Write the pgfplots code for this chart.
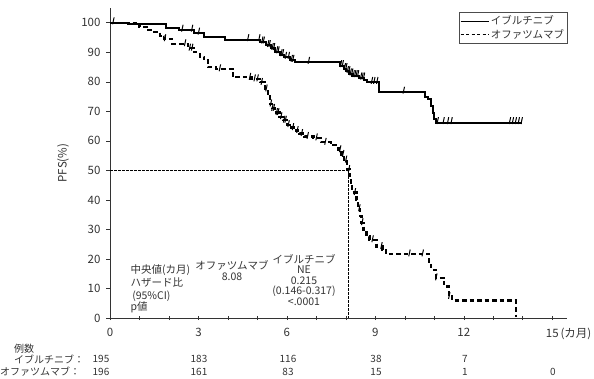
\documentclass[border=0pt]{standalone}
\usepackage{fontspec}
\setmainfont{Noto Sans CJK JP}
\usepackage{pgfplots}
\pgfplotsset{compat=1.18}
\definecolor{txt}{gray}{0.2}
\begin{document}
\begin{tikzpicture}[font=\fontsize{10.5}{12}\selectfont, text=txt]
\useasboundingbox (-110pt,-60pt) rectangle (484pt,318pt);
\begin{axis}[
  at={(0,0)}, anchor=south west,
  scale only axis, width=457pt, height=310pt,
  xmin=0, xmax=15.5, ymin=0, ymax=105,
  axis x line*=bottom, axis y line*=left,
  axis line style={-, black!80, line width=0.8pt},
  xtick={0,3,6,9,12,15},
  xticklabels={0,3,6,9,12,{15\rlap{\,(カ月)}}},
  minor xtick={1,2,4,5,7,8,10,11,13,14},
  ytick={0,10,...,100},
  xtick align=center, ytick align=outside,
  major tick length=4pt, minor tick length=4pt,
  tick style={black!80, line width=0.6pt},
  /pgf/number format/assume math mode=true,
  tick label style={font=\fontsize{11.5}{13}\selectfont, text=txt},
  xticklabel style={yshift=-5pt},
  yticklabel style={xshift=-2pt},
  ylabel={PFS(\%)},
  every axis y label/.style={at={(rel axis cs:0,0.5)}, xshift=-47pt, rotate=90, anchor=center, font=\fontsize{11.5}{13}\selectfont, text=txt},
  clip=false,
  legend style={at={(1.002,0.987)}, anchor=north east, draw=black!70, line width=0.5pt,
    font=\fontsize{10.5}{12}\selectfont, text=txt, inner sep=1.5pt, row sep=-1pt, cells={anchor=west}},
  legend cell align=left,
]
% median reference lines
\addplot[forget plot, black, line width=0.5pt, dash pattern=on 2.5pt off 1.5pt] coordinates {(0,50) (8.08,50) (8.08,0)};
% Ibrutinib
\addplot[const plot, black, line width=2pt,
  legend image code/.code={\draw[black, line width=0.6pt] (0pt,0pt) -- (28pt,0pt);}]
coordinates {
(0,100) (0.6,99.5) (1.9,98.2) (2.35,97.5) (2.85,96.5) (3.2,95.1) (3.9,94.3)
(5.1,93.5) (5.3,92.3) (5.45,91.3) (5.6,90.2) (5.75,89.2) (5.9,88.3) (6.1,87.3)
(6.26,86.6) (7.8,85.5) (7.92,84.5) (8.02,83.5) (8.12,82.7) (8.22,82.1) (8.45,81.3)
(8.63,80.5) (8.7,79.8) (9.14,76.5) (10.69,75.0) (10.77,74.1) (10.89,71.9) (10.94,69.6)
(11.0,67.3) (11.05,66.2) (13.98,66.2)};
\addlegendentry{イブルチニブ}
% Ofatumumab
\addplot[const plot, black, line width=2.2pt, dash pattern=on 4.5pt off 3pt,
  legend image code/.code={\draw[black, line width=0.6pt, dash pattern=on 3pt off 2.5pt] (0pt,0pt) -- (28pt,0pt);}]
coordinates {
(0,100) (1.0,98.6) (1.3,97.5) (1.5,96.8) (1.7,95.6) (1.85,94.6) (2.1,92.9) (2.65,91.4)
(2.85,90.0) (3.05,88.5) (3.2,87.2) (3.33,84.9) (3.6,84.4) (4.17,81.5) (4.8,81.0)
(5.1,79.8) (5.25,77.6) (5.35,75.0) (5.42,72.5) (5.5,71.0) (5.6,69.6) (5.75,68.2)
(5.86,67.0) (6.0,65.5) (6.1,64.5) (6.25,63.5) (6.43,62.5) (6.6,61.5) (6.9,61.0)
(7.15,59.5) (7.5,58.5) (7.75,57.0) (7.85,55.4) (7.95,53.5) (8.05,50.3) (8.12,48.0)
(8.18,45.0) (8.22,42.5) (8.36,40.0) (8.42,37.0) (8.48,34.5) (8.53,32.3) (8.6,29.9)
(8.7,27.6) (8.8,26.5) (9.04,24.2) (9.24,23.1) (9.37,21.7) (10.83,19.0) (10.9,16.3)
(11.05,13.6) (11.34,10.7) (11.5,7.3) (11.6,5.9) (13.76,0.5)};
\addlegendentry{オファツムマブ}
% censor marks ibrutinib
\addplot[forget plot, only marks, mark=|, mark size=3.5pt, mark options={line width=1pt, black, rotate=-12, yshift=2pt}]
coordinates {
(0.1,100) (2.44,97.5) (2.77,97.5) (3.0,96.5) (4.67,94.3) (5.05,94.3) (5.15,93.5) (5.2,93.5)
(5.35,92.3) (5.4,92.3) (5.5,91.3) (5.55,91.3) (5.65,90.2) (5.7,90.2) (5.8,89.2) (5.85,89.2)
(5.95,88.3) (6.05,88.3) (6.15,87.3) (6.2,87.3) (6.73,86.6) (7.82,85.5) (7.88,85.5)
(7.95,84.5) (8.0,84.5) (8.05,83.5) (8.1,83.5) (8.15,82.7) (8.2,82.7) (8.25,82.1)
(8.3,82.1) (8.35,82.1) (8.4,82.1) (8.5,81.3) (8.55,81.3) (8.6,81.3) (8.87,79.8)
(8.95,79.8) (9.05,79.8) (9.95,76.5) (11.1,66.2) (11.3,66.2) (11.45,66.2) (11.57,66.2)
(13.55,66.2) (13.65,66.2) (13.75,66.2) (13.85,66.2) (13.95,66.2)};
% censor marks ofatumumab
\addplot[forget plot, only marks, mark=|, mark size=3.5pt, mark options={line width=1pt, black, rotate=-12, yshift=1pt}]
coordinates {
(1.86,94.6) (2.54,92.9) (2.7,91.4) (2.78,91.4) (3.72,84.4) (4.74,81.5) (4.9,81.0)
(5.0,81.0) (5.14,79.8) (5.3,77.6) (5.45,72.5) (5.5,71.0) (5.55,71.0) (5.65,69.6)
(5.7,69.6) (5.8,68.2) (5.9,67.0) (5.95,67.0) (6.05,65.5) (6.2,64.5) (6.35,63.5)
(6.5,62.5) (6.7,61.5) (7.0,61.0) (7.3,59.5) (7.8,57.0) (7.9,55.4) (8.0,53.5)
(8.1,50.3) (8.3,42.5) (8.45,37.0) (8.55,32.3) (8.9,26.5) (9.2,24.2) (10.15,21.7)
(10.6,21.7) (11.06,13.6) (11.5,7.3)};
\end{axis}
% annotation block
\node[anchor=west] at (17pt,48pt) {中央値(カ月)};
\node[anchor=west] at (17pt,36pt) {ハザード比};
\node[anchor=west] at (17pt,22pt) {\,(95\%CI)};
\node[anchor=west] at (17pt,11pt) {p値};
\node at (122pt,53pt) {オファツムマブ};
\node at (122pt,41pt) {8.08};
\node at (194pt,59pt) {イブルチニブ};
\node at (194pt,48pt) {NE};
\node at (194pt,37.5pt) {0.215};
\node at (194pt,27pt) {(0.146-0.317)};
\node at (194pt,16pt) {<.0001};
% number at risk
\begin{scope}[font=\fontsize{10}{12}\selectfont]
\node[anchor=west, inner sep=0pt] at (-96pt,-31pt) {例数};
\node[anchor=west, inner sep=0pt] at (-96pt,-41pt) {イブルチニブ：};
\node[anchor=west, inner sep=0pt] at (-110pt,-54pt) {オファツムマブ：};
\foreach \x/\v in {-9/195,89/183,178/116,266/38,355/7} {\node at (\x pt,-41pt) {\v};}
\foreach \x/\v in {-9/196,89/161,178/83,266/15,355/1,443/0} {\node at (\x pt,-54pt) {\v};}
\end{scope}
\end{tikzpicture}
\end{document}
